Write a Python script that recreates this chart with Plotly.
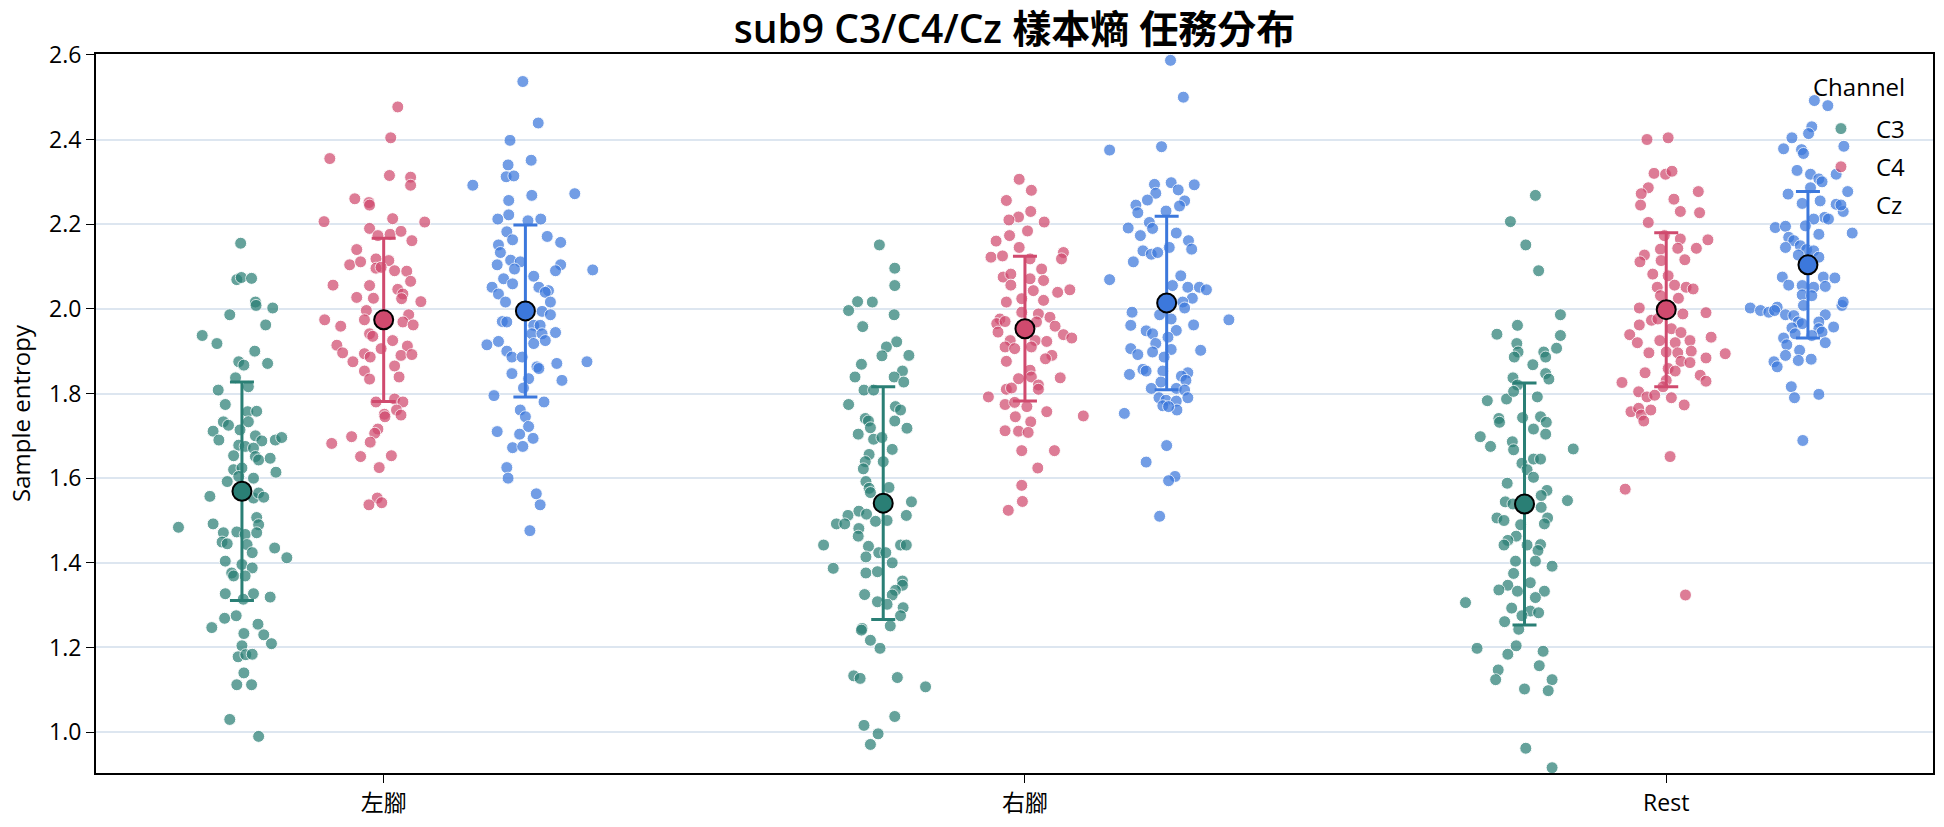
import plotly.graph_objects as go

# ---------------- data ----------------
conditions = ["左腳", "右腳", "Rest"]
channels = ["C3", "C4", "Cz"]

# 左腳
left_c3 = [2.155,2.069,2.074,2.072,2.016,2.008,2.002,1.986,1.962,1.937,1.918,1.900,1.875,1.867,1.871,1.837,1.808,1.816,1.774,1.757,1.758,
           1.733,1.725,1.733,1.711,1.690,1.714,1.700,1.688,1.690,1.696,1.678,1.675,1.671,1.653,1.651,1.643,1.647,1.620,1.624,1.614,1.592,1.604,1.600,
           1.557,1.553,1.565,1.555,1.507,1.490,1.492,1.484,1.471,1.473,1.467,1.471,1.449,1.445,1.443,1.424,1.435,1.412,1.404,1.396,1.388,1.376,1.369,1.369,
           1.327,1.327,1.319,1.314,1.269,1.275,1.255,1.247,1.233,1.230,1.209,1.204,1.178,1.183,1.184,1.140,1.112,1.112,1.030,0.990]
left_c3_jit = [-0.002,-0.008,-0.001,0.015,0.021,0.022,0.048,-0.019,0.037,-0.062,-0.039,0.020,-0.005,0.003,0.040,-0.010,-0.037,0.010,-0.026,0.009,0.023,
               -0.029,-0.021,0.010,-0.045,-0.036,-0.003,0.021,0.031,0.052,0.062,-0.005,0.005,0.018,-0.013,0.021,0.026,0.044,-0.013,0.000,0.053,-0.023,-0.005,0.018,
               -0.050,0.018,0.026,0.034,0.023,0.026,-0.045,-0.099,-0.029,-0.008,0.005,0.023,-0.031,-0.023,0.008,0.016,0.051,0.070,-0.026,0.000,0.016,-0.016,-0.013,0.005,
               -0.026,0.018,0.044,0.002,-0.027,-0.009,0.025,-0.047,0.003,0.034,0.046,0.000,-0.006,0.006,0.016,0.003,-0.008,0.015,-0.019,0.026]
left_c4 = [2.477,2.404,2.355,2.315,2.311,2.292,2.260,2.251,2.245,2.206,2.213,2.205,2.190,2.173,2.176,2.183,2.161,2.140,2.118,2.104,
           2.111,2.114,2.096,2.098,2.090,2.089,2.065,2.056,2.055,2.046,2.035,2.027,2.025,2.024,2.017,1.996,1.986,1.974,1.974,1.969,
           1.959,1.962,1.941,1.935,1.925,1.914,1.896,1.894,1.886,1.906,1.912,1.890,1.892,1.875,1.865,1.853,1.834,1.839,1.780,1.787,
           1.780,1.751,1.761,1.745,1.749,1.716,1.706,1.698,1.682,1.685,1.651,1.653,1.625,1.553,1.537,1.542]
left_c4_jit = [0.022,0.011,-0.084,0.009,0.042,0.042,-0.045,-0.023,-0.022,-0.093,0.014,0.064,-0.022,-0.009,0.010,0.027,0.044,-0.042,-0.012,-0.053,
               -0.036,0.008,-0.012,-0.004,0.017,0.036,0.042,-0.079,-0.022,0.022,0.030,-0.042,-0.016,0.028,0.058,-0.027,0.039,-0.092,-0.030,0.030,
               -0.067,0.046,-0.022,-0.017,0.014,-0.073,-0.064,-0.030,-0.021,-0.004,0.037,0.027,0.044,-0.048,0.017,-0.030,-0.022,0.024,-0.012,0.017,
               0.030,0.001,0.020,0.002,0.027,-0.009,-0.014,-0.050,-0.081,-0.021,-0.036,0.012,-0.007,-0.010,-0.023,-0.003]
left_cz = [2.537,2.439,2.398,2.351,2.340,2.312,2.314,2.292,2.268,2.272,2.256,2.222,2.212,2.208,2.212,2.182,2.163,2.171,2.157,2.151,
           2.133,2.115,2.111,2.104,2.104,2.090,2.092,2.094,2.077,2.071,2.051,2.059,2.051,2.043,2.035,2.039,2.016,2.016,1.994,1.970,
           1.969,1.986,1.961,1.961,1.941,1.941,1.944,1.925,1.915,1.923,1.918,1.900,1.886,1.886,1.863,1.859,1.871,1.875,1.847,1.835,
           1.831,1.813,1.795,1.780,1.761,1.745,1.722,1.710,1.704,1.694,1.672,1.675,1.625,1.600,1.563,1.537,1.476]
left_cz_jit = [-0.004,0.020,-0.024,0.009,-0.027,-0.030,-0.018,-0.082,0.010,0.077,-0.026,-0.026,-0.043,0.004,0.024,-0.029,-0.020,0.034,0.055,-0.042,
               -0.039,-0.023,-0.008,-0.044,0.055,0.047,0.105,-0.017,0.013,-0.034,-0.052,-0.020,0.021,0.036,-0.042,0.031,-0.031,0.039,0.026,-0.036,
               -0.029,0.039,0.013,0.023,0.010,0.026,0.047,0.031,-0.060,-0.042,0.013,-0.029,-0.021,-0.005,0.018,0.021,0.049,0.096,-0.021,0.005,
               0.057,-0.003,-0.049,0.029,-0.008,0.000,0.005,-0.044,-0.009,0.012,-0.020,-0.004,-0.029,-0.027,0.017,0.023,0.007]

# 右腳
right_c3 = [2.151,2.096,2.055,2.017,2.016,1.996,1.986,1.958,1.922,1.910,1.889,1.890,1.869,1.853,1.839,1.839,1.827,1.808,1.808,1.774,1.769,1.761,
            1.741,1.735,1.735,1.718,1.719,1.704,1.692,1.696,1.668,1.656,1.639,1.639,1.622,1.592,1.576,1.566,1.578,1.544,1.522,1.515,
            1.512,1.512,1.492,1.492,1.498,1.500,1.481,1.463,1.442,1.439,1.442,1.442,1.424,1.424,1.414,1.400,1.387,1.376,1.379,1.357,
            1.347,1.335,1.325,1.324,1.308,1.302,1.294,1.275,1.251,1.245,1.241,1.217,1.198,1.133,1.127,1.129,1.107,1.037,1.016,0.996,0.971]
right_c3_jit = [-0.006,0.018,0.018,-0.040,-0.017,-0.054,0.017,-0.032,0.021,0.005,-0.002,0.040,-0.034,0.030,-0.044,0.017,0.032,-0.030,-0.015,-0.054,0.019,0.027,
                -0.028,-0.023,0.018,0.037,-0.020,-0.039,-0.015,-0.002,0.014,-0.022,-0.028,0.000,-0.031,-0.027,-0.022,-0.020,0.009,0.044,-0.038,-0.026,
                -0.055,0.036,-0.073,-0.060,-0.012,0.006,-0.038,-0.039,-0.093,-0.023,0.027,0.036,-0.007,0.004,-0.027,0.014,-0.078,-0.027,-0.009,0.030,
                0.030,0.019,-0.029,0.014,-0.009,0.006,0.031,0.027,0.011,-0.033,-0.034,-0.020,-0.005,-0.046,-0.036,0.022,0.066,0.018,-0.030,-0.008,-0.020]
right_c4 = [2.306,2.280,2.256,2.230,2.217,2.210,2.205,2.184,2.173,2.160,2.145,2.133,2.122,2.125,2.118,2.118,2.094,2.075,2.082,2.067,
            2.056,2.071,2.039,2.045,2.024,2.043,2.016,2.020,1.992,1.988,1.980,1.976,1.965,1.970,1.969,1.959,1.945,1.939,1.931,1.925,
            1.925,1.923,1.910,1.906,1.910,1.890,1.882,1.876,1.855,1.839,1.835,1.837,1.820,1.810,1.813,1.810,1.792,1.774,1.779,1.769,
            1.757,1.745,1.747,1.733,1.712,1.711,1.708,1.665,1.665,1.624,1.583,1.545,1.524]
right_c4_jit = [-0.009,0.010,-0.029,0.009,-0.010,-0.025,0.030,0.004,-0.024,-0.045,-0.009,0.060,-0.053,-0.035,0.057,0.008,0.026,-0.034,-0.022,0.029,
                -0.022,0.008,0.051,0.070,-0.005,0.013,-0.029,0.029,-0.005,0.021,0.039,-0.039,-0.044,-0.031,0.018,0.047,-0.042,0.060,0.073,-0.023,
                0.016,0.034,-0.031,-0.016,0.010,0.042,0.032,-0.029,0.008,0.010,-0.010,0.055,0.021,-0.029,-0.021,0.021,-0.057,-0.031,-0.016,0.003,
                0.034,-0.015,0.091,0.009,-0.031,-0.010,0.005,-0.005,0.046,0.020,-0.005,-0.004,-0.026]
right_cz = [2.587,2.500,2.375,2.383,2.294,2.298,2.281,2.293,2.273,2.257,2.255,2.245,2.227,2.231,2.243,2.204,2.191,2.190,2.173,2.179,
            2.161,2.145,2.141,2.137,2.129,2.133,2.111,2.069,2.078,2.055,2.051,2.051,2.045,2.025,2.016,2.002,1.992,1.986,1.976,1.974,
            1.961,1.962,1.948,1.949,1.941,1.933,1.918,1.904,1.906,1.892,1.898,1.902,1.886,1.857,1.853,1.845,1.853,1.849,1.841,1.831,
            1.827,1.812,1.812,1.808,1.790,1.790,1.784,1.782,1.771,1.761,1.769,1.753,1.677,1.638,1.604,1.594,1.510]
right_cz_jit = [0.006,0.026,-0.089,-0.008,-0.019,0.007,0.018,0.043,-0.017,-0.030,0.028,-0.048,-0.045,-0.001,0.020,-0.027,-0.060,-0.022,-0.041,0.015,
                0.034,0.004,0.039,-0.037,-0.024,-0.014,-0.052,-0.089,0.022,0.009,0.033,0.051,0.062,0.040,0.025,0.028,-0.054,-0.011,0.007,0.097,
                -0.056,0.042,-0.032,0.015,-0.022,0.002,-0.017,0.007,-0.056,-0.045,-0.022,0.053,-0.004,-0.037,-0.032,-0.058,-0.006,0.033,0.023,0.030,
                -0.009,-0.024,0.015,0.028,0.033,-0.012,-0.001,0.015,-0.006,0.016,0.003,-0.066,0.000,-0.032,0.013,0.003,-0.011]

# Rest
rest_c3 = [2.268,2.206,2.151,2.090,1.986,1.961,1.940,1.937,1.918,1.898,1.898,1.907,1.886,1.886,1.868,1.847,1.834,1.837,1.820,1.783,
           1.787,1.805,1.792,1.741,1.745,1.743,1.732,1.732,1.716,1.704,1.698,1.675,1.686,1.667,1.669,1.645,1.645,1.635,1.620,1.602,
           1.588,1.571,1.559,1.547,1.544,1.539,1.531,1.506,1.500,1.506,1.492,1.490,1.463,1.453,1.442,1.442,1.443,1.429,1.404,1.404,
           1.392,1.375,1.347,1.336,1.333,1.353,1.333,1.318,1.306,1.293,1.286,1.282,1.275,1.261,1.243,1.198,1.204,1.184,1.191,1.157,
           1.147,1.124,1.124,1.102,1.098,0.962,0.916]
rest_c3_jit = [0.017,-0.022,0.002,0.022,0.056,-0.011,-0.043,0.056,-0.012,-0.010,0.030,0.050,-0.016,0.033,0.013,0.033,0.038,-0.018,-0.011,-0.058,
               -0.028,-0.017,0.020,-0.040,0.025,-0.003,0.034,-0.039,0.014,0.033,-0.069,-0.053,-0.019,-0.017,0.076,0.014,0.025,-0.004,0.004,0.014,
               -0.027,0.035,0.026,0.067,-0.030,-0.018,0.026,-0.043,-0.032,0.036,0.031,-0.006,-0.013,-0.026,-0.032,0.004,0.025,0.021,-0.014,0.017,
               0.043,-0.017,-0.026,-0.040,-0.011,0.009,0.031,0.017,-0.092,-0.020,0.009,0.022,-0.004,-0.031,-0.009,-0.074,-0.013,-0.026,0.029,0.023,
               -0.041,-0.045,0.043,0.000,0.037,0.002,0.043]
rest_c4 = [2.400,2.404,2.320,2.318,2.325,2.286,2.272,2.277,2.259,2.245,2.230,2.227,2.204,2.173,2.165,2.163,2.143,2.141,2.143,2.127,
           2.111,2.116,2.114,2.082,2.078,2.056,2.051,2.051,2.047,2.025,2.031,2.002,1.991,1.973,1.976,1.988,1.962,1.953,1.944,1.939,
           1.933,1.920,1.925,1.920,1.925,1.896,1.898,1.896,1.900,1.894,1.884,1.876,1.873,1.859,1.849,1.853,1.843,1.829,1.826,1.831,
           1.816,1.804,1.792,1.796,1.790,1.773,1.757,1.765,1.749,1.761,1.735,1.651,1.574,1.324]
rest_c4_jit = [-0.030,0.003,-0.019,-0.001,0.009,-0.028,-0.039,0.050,0.012,-0.040,0.022,0.052,-0.028,-0.003,0.022,0.065,0.047,-0.009,0.018,-0.034,
               -0.041,0.029,-0.008,-0.021,0.003,0.013,-0.014,0.031,0.042,0.019,-0.009,-0.042,0.062,-0.023,-0.013,0.026,-0.042,0.008,0.023,-0.057,
               0.070,-0.045,-0.010,0.014,0.037,-0.027,0.000,0.018,0.039,0.092,0.062,0.023,0.037,0.003,-0.033,0.014,0.053,0.062,-0.069,0.000,
               -0.005,-0.043,-0.030,-0.018,0.008,0.028,-0.055,-0.043,-0.039,-0.024,-0.035,0.006,-0.064,0.030]
rest_cz = [2.492,2.480,2.430,2.414,2.404,2.384,2.378,2.376,2.367,2.327,2.318,2.318,2.307,2.300,2.286,2.277,2.271,2.249,2.255,2.247,
           2.230,2.216,2.212,2.212,2.192,2.195,2.196,2.176,2.179,2.169,2.161,2.149,2.145,2.140,2.137,2.127,2.122,2.075,2.056,2.055,
           2.051,2.075,2.073,2.053,2.033,2.031,2.002,1.996,1.992,2.004,1.996,1.986,2.008,2.008,2.016,1.984,1.969,1.965,1.986,1.969,
           1.957,1.955,1.941,1.953,1.945,1.937,1.931,1.920,1.915,1.902,1.890,1.878,1.881,1.875,1.863,1.816,1.790,1.798,1.689]
rest_cz_jit = [0.010,0.031,0.006,0.001,-0.025,0.056,-0.038,-0.010,-0.007,-0.017,0.004,0.044,0.017,0.022,0.004,0.062,-0.031,-0.009,0.019,0.044,
               0.055,0.026,0.032,0.009,-0.051,-0.035,-0.004,0.017,0.069,-0.030,-0.022,-0.012,-0.035,-0.002,0.009,-0.015,0.017,-0.040,-0.030,-0.009,
               0.009,0.024,0.042,0.027,-0.009,0.006,-0.090,-0.074,-0.061,-0.048,-0.052,-0.035,-0.007,0.053,0.055,-0.022,-0.015,-0.009,0.027,0.017,
               0.040,-0.025,-0.020,0.017,0.022,0.006,-0.038,0.027,-0.033,-0.013,-0.035,-0.015,0.005,-0.053,-0.048,-0.026,-0.021,0.017,-0.008]

# mean and standard deviation per condition (左腳, 右腳, Rest)
mean_c3 = [1.569, 1.541, 1.539]
mean_c4 = [1.974, 1.953, 1.998]
mean_cz = [1.995, 2.014, 2.104]
sd_c3 = [0.258, 0.275, 0.286]
sd_c4 = [0.193, 0.171, 0.182]
sd_cz = [0.203, 0.205, 0.173]

# ---------------- figure ----------------
VALUES = {"C3": [left_c3, right_c3, rest_c3],
          "C4": [left_c4, right_c4, rest_c4],
          "Cz": [left_cz, right_cz, rest_cz]}
JITTER = {"C3": [left_c3_jit, right_c3_jit, rest_c3_jit],
          "C4": [left_c4_jit, right_c4_jit, rest_c4_jit],
          "Cz": [left_cz_jit, right_cz_jit, rest_cz_jit]}
MEANS = {"C3": mean_c3, "C4": mean_c4, "Cz": mean_cz}
SDS = {"C3": sd_c3, "C4": sd_c4, "Cz": sd_cz}

COLORS = {"C3": "#2a7f75", "C4": "#d04a6e", "Cz": "#3c78dc"}
DODGE = {"C3": -0.221, "C4": 0.0, "Cz": 0.221}

FONT = "Open Sans, Noto Sans CJK TC, sans-serif"

fig = go.Figure()

for ch in channels:
    xs, ys = [], []
    for ci in range(len(conditions)):
        vals = VALUES[ch][ci]
        jit = JITTER[ch][ci]
        n = min(len(vals), len(jit))
        xs += [ci + DODGE[ch] + j for j in jit[:n]]
        ys += vals[:n]
    fig.add_trace(go.Scatter(
        x=xs, y=ys, mode="markers", name=ch, legendgroup=ch,
        marker=dict(size=12, color=COLORS[ch], opacity=0.72,
                    line=dict(color="white", width=1)),
        hoverinfo="skip",
    ))

for ch in channels:
    fig.add_trace(go.Scatter(
        x=[ci + DODGE[ch] for ci in range(len(conditions))],
        y=MEANS[ch], mode="markers", showlegend=False, legendgroup=ch,
        error_y=dict(type="data", array=SDS[ch], visible=True,
                     color=COLORS[ch], thickness=3, width=12),
        marker=dict(size=19, color=COLORS[ch], line=dict(color="black", width=2)),
    ))

fig.update_layout(
    width=1944, height=827,
    margin=dict(l=96, r=9, t=54, b=51),
    paper_bgcolor="white", plot_bgcolor="white",
    font=dict(family=FONT, size=23, color="black"),
    title=dict(text="sub9 C3/C4/Cz 樣本熵 任務分布", x=0.5, xref="paper", xanchor="center",
               y=1 - 29 / 827, yref="container", yanchor="middle",
               font=dict(family=FONT, size=39, color="black", weight=600)),
    legend=dict(x=0.988, xanchor="right", y=0.927, yanchor="top",
                bgcolor="rgba(0,0,0,0)", font=dict(size=24), itemwidth=60,
                tracegroupgap=4),
    showlegend=True,
    annotations=[dict(text="Channel", xref="paper", yref="paper",
                      x=0.9859, xanchor="right", y=1 - 33 / 722, yanchor="middle",
                      showarrow=False, font=dict(size=24, color="black"))],
)
fig.update_xaxes(
    range=[-0.4486, 2.416], tickmode="array", tickvals=[0, 1, 2], ticktext=conditions,
    showline=True, linecolor="black", linewidth=2, mirror=True,
    ticks="outside", ticklen=8, tickcolor="black", tickwidth=1,
    showgrid=False, zeroline=False, tickfont=dict(size=23),
)
fig.update_yaxes(
    range=[0.9035, 2.602], tick0=1.0, dtick=0.2, tickformat=".1f",
    showline=True, linecolor="black", linewidth=2, mirror=True,
    ticks="outside", ticklen=8, tickcolor="black", tickwidth=1,
    showgrid=True, gridcolor="#dde6f0", gridwidth=1.5, zeroline=False,
    tickfont=dict(size=23),
    title=dict(text="Sample entropy", font=dict(size=24), standoff=12),
)

fig.write_html("out.html")
